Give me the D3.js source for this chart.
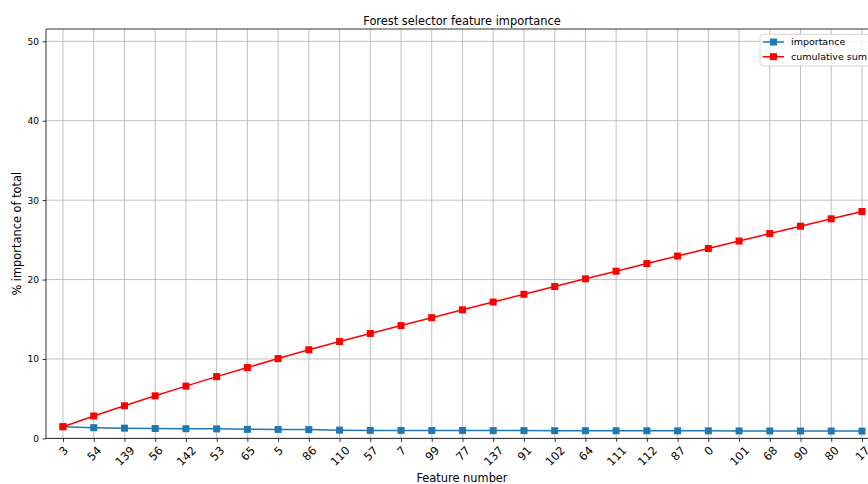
<!DOCTYPE html>
<html>
<head>
<meta charset="utf-8">
<script src="https://cdn.jsdelivr.net/npm/d3@7"></script>
<style>
  html, body { margin: 0; padding: 0; background: #fff; }
  svg { display: block; font-family: "DejaVu Sans", sans-serif; }
</style>
</head>
<body>
<svg id="chart" width="868" height="484"></svg>
<script>
// Feature ids in order of decreasing importance
const features = ["3", "54", "139", "56", "142", "53", "65", "5", "86", "110", "57", "7", "99",
  "77", "137", "91", "102", "64", "111", "112", "87", "0", "101", "68", "90", "80", "17"];

// Share of total importance per feature (%)
const importance = [1.47, 1.35, 1.29, 1.25, 1.22, 1.20, 1.14, 1.13, 1.11, 1.04, 1.01, 1.00, 0.99,
  0.99, 0.98, 0.98, 0.97, 0.97, 0.96, 0.96, 0.95, 0.95, 0.94, 0.94, 0.93, 0.93, 0.92];

// Running total of importance (%)
const cumulative = [1.47, 2.82, 4.11, 5.36, 6.58, 7.78, 8.92, 10.05, 11.16, 12.20, 13.21, 14.21, 15.20,
  16.19, 17.17, 18.15, 19.12, 20.09, 21.05, 22.01, 22.96, 23.91, 24.85, 25.79, 26.72, 27.65, 28.57];

const yTicks = [0, 10, 20, 30, 40, 50];

const seriesNames = ["importance", "cumulative sum"];
const seriesColors = ["#1f77b4", "#ff0000"];

const svg = d3.select("#chart");

// Axes box (extends past the right edge of the window)
const axLeft = 46, axTop = 29, axBottom = 438.4, axRight = 905;

const x = d3.scaleLinear().domain([-0.553, 27.4]).range([axLeft, axRight]);
const y = d3.scaleLinear().domain([0, 51.55]).range([axBottom, axTop]);

const idx = d3.range(features.length);

// Grid
const grid = svg.append("g").attr("stroke", "#b0b0b0").attr("stroke-width", 0.8);
grid.selectAll("line.v").data(idx).join("line").attr("class", "v")
  .attr("x1", d => x(d)).attr("x2", d => x(d))
  .attr("y1", axTop).attr("y2", axBottom);
grid.selectAll("line.h").data(yTicks).join("line").attr("class", "h")
  .attr("x1", axLeft).attr("x2", axRight)
  .attr("y1", d => y(d)).attr("y2", d => y(d));

// Series
const series = [importance, cumulative];
series.forEach((vals, s) => {
  const g = svg.append("g");
  const line = d3.line().x((d, i) => x(i)).y(d => y(d));
  g.append("path").datum(vals)
    .attr("d", line)
    .attr("fill", "none")
    .attr("stroke", seriesColors[s])
    .attr("stroke-width", 1.5)
    .attr("stroke-linejoin", "round");
  const m = 7;
  g.selectAll("rect").data(vals).join("rect")
    .attr("x", (d, i) => x(i) - m / 2)
    .attr("y", d => y(d) - m / 2)
    .attr("width", m).attr("height", m)
    .attr("fill", seriesColors[s]);
});

// Spines
svg.append("path")
  .attr("d", `M${axRight},${axTop}H${axLeft}V${axBottom}H${axRight}`)
  .attr("fill", "none").attr("stroke", "#000").attr("stroke-width", 0.8);

// Y axis
const yAxis = svg.append("g")
  .attr("transform", `translate(${axLeft},0)`)
  .call(d3.axisLeft(y).tickValues(yTicks).tickSize(3.5).tickPadding(3.5).tickFormat(d3.format("d")));
yAxis.select(".domain").remove();
yAxis.selectAll(".tick line").attr("stroke", "#000").attr("stroke-width", 0.8);
yAxis.selectAll(".tick text").attr("font-size", 9.1).attr("fill", "#000")
  .attr("font-family", "DejaVu Sans, sans-serif");

// X axis
const xAxis = svg.append("g")
  .attr("transform", `translate(0,${axBottom})`)
  .call(d3.axisBottom(x).tickValues(idx).tickSize(3.5).tickFormat(i => features[i]));
xAxis.select(".domain").remove();
xAxis.selectAll(".tick line").attr("stroke", "#000").attr("stroke-width", 0.8);
xAxis.selectAll(".tick text")
  .attr("font-size", 11.4).attr("fill", "#000")
  .attr("font-family", "DejaVu Sans, sans-serif")
  .attr("text-anchor", "middle")
  .attr("dy", null)
  .attr("dominant-baseline", "central")
  .each(function () {
    const L = this.getComputedTextLength();
    const H = 11.4 * 0.73;
    const half = (L + H) / (2 * Math.SQRT2);
    d3.select(this)
      .attr("y", 7 + half)
      .attr("transform", `rotate(-45,0,${7 + half})`);
  });

// Title and axis labels
svg.append("text")
  .attr("x", 462).attr("y", 24.5)
  .attr("text-anchor", "middle")
  .attr("font-size", 11.4)
  .text("Forest selector feature importance");

svg.append("text")
  .attr("x", 462).attr("y", 482)
  .attr("text-anchor", "middle")
  .attr("font-size", 11.4)
  .text("Feature number");

svg.append("text")
  .attr("transform", `translate(21,${(axTop + axBottom) / 2}) rotate(-90)`)
  .attr("text-anchor", "middle")
  .attr("font-size", 11.4)
  .text("% importance of total");

// Legend
const lg = svg.append("g").attr("transform", "translate(760,34.3)");
lg.append("rect")
  .attr("width", 130).attr("height", 31.7)
  .attr("rx", 2.5)
  .attr("fill", "#fff").attr("fill-opacity", 0.8)
  .attr("stroke", "#cccccc").attr("stroke-width", 0.8);
seriesNames.forEach((name, s) => {
  const ry = 7.7 + s * 14.7;
  lg.append("line")
    .attr("x1", 2.7).attr("x2", 24).attr("y1", ry).attr("y2", ry)
    .attr("stroke", seriesColors[s]).attr("stroke-width", 1.5);
  lg.append("rect")
    .attr("x", 13.5 - 3.5).attr("y", ry - 3.5).attr("width", 7).attr("height", 7)
    .attr("fill", seriesColors[s]);
  lg.append("text")
    .attr("x", 31).attr("y", ry)
    .attr("dominant-baseline", "central")
    .attr("font-size", 9.5)
    .text(name);
});
</script>
</body>
</html>
